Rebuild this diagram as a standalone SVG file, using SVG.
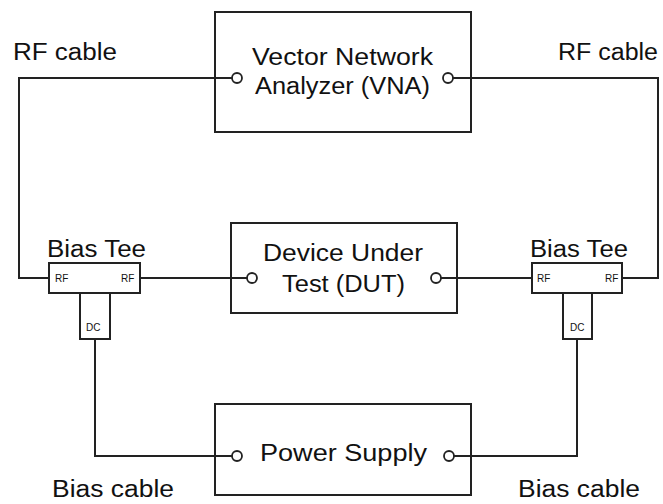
<svg xmlns="http://www.w3.org/2000/svg" width="663" height="504" viewBox="0 0 663 504">
<style>
.box{fill:#fff;stroke:#222;stroke-width:2}
.port{fill:#fff;stroke:#222;stroke-width:1.8}
.wire{fill:none;stroke:#222;stroke-width:2}
.lbl{font-family:"Liberation Sans",Arial,sans-serif;font-size:23px;fill:#111}
.sm{font-family:"Liberation Sans",Arial,sans-serif;font-size:10px;fill:#111}
</style>
<rect width="663" height="504" fill="#fff"/>
<g id="vna">
<rect class="box" x="215" y="12" width="256" height="120"/>
<text class="lbl" x="252" y="65" textLength="181" lengthAdjust="spacingAndGlyphs">Vector Network</text>
<text class="lbl" x="255" y="94" textLength="175" lengthAdjust="spacingAndGlyphs">Analyzer (VNA)</text>
</g>
<g id="dut">
<rect class="box" x="231" y="223" width="226" height="90"/>
<text class="lbl" x="263" y="261" textLength="160" lengthAdjust="spacingAndGlyphs">Device Under</text>
<text class="lbl" x="282" y="292" textLength="123" lengthAdjust="spacingAndGlyphs">Test (DUT)</text>
</g>
<g id="power">
<rect class="box" x="215" y="404" width="256" height="91"/>
<text class="lbl" x="260" y="461" textLength="167" lengthAdjust="spacingAndGlyphs">Power Supply</text>
</g>
<g id="biastee-left">
<text class="lbl" x="47" y="257" textLength="99" lengthAdjust="spacingAndGlyphs">Bias Tee</text>
<rect class="box" x="49" y="263" width="91" height="30"/>
<rect class="box" x="80" y="293" width="30" height="46"/>
<text class="sm" x="55" y="282">RF</text>
<text class="sm" x="121" y="282">RF</text>
<text class="sm" x="86" y="331">DC</text>
</g>
<g id="biastee-right">
<text class="lbl" x="530" y="257" textLength="98" lengthAdjust="spacingAndGlyphs">Bias Tee</text>
<rect class="box" x="532" y="263" width="90" height="30"/>
<rect class="box" x="563" y="293" width="29" height="46"/>
<text class="sm" x="537" y="282">RF</text>
<text class="sm" x="605" y="282">RF</text>
<text class="sm" x="570" y="331">DC</text>
</g>
<g id="connectors">
<polyline class="wire" points="232,78 19,78 19,278 49,278"/>
<polyline class="wire" points="453,78 658,78 658,278 622,278"/>
<polyline class="wire" points="140,278 247,278"/>
<polyline class="wire" points="441,278 532,278"/>
<polyline class="wire" points="95,339 95,456 232,456"/>
<polyline class="wire" points="577,339 577,456 454,456"/>
</g>
<g id="ports">
<circle class="port" cx="237" cy="78" r="5"/>
<circle class="port" cx="448" cy="78" r="5"/>
<circle class="port" cx="252" cy="278" r="5"/>
<circle class="port" cx="436" cy="278" r="5"/>
<circle class="port" cx="237" cy="456" r="5"/>
<circle class="port" cx="449" cy="456" r="5"/>
</g>
<g id="labels">
<text class="lbl" x="13" y="60" textLength="104" lengthAdjust="spacingAndGlyphs">RF cable</text>
<text class="lbl" x="558" y="60" textLength="100" lengthAdjust="spacingAndGlyphs">RF cable</text>
<text class="lbl" x="52" y="497" textLength="122" lengthAdjust="spacingAndGlyphs">Bias cable</text>
<text class="lbl" x="518" y="497" textLength="122" lengthAdjust="spacingAndGlyphs">Bias cable</text>
</g>
</svg>
